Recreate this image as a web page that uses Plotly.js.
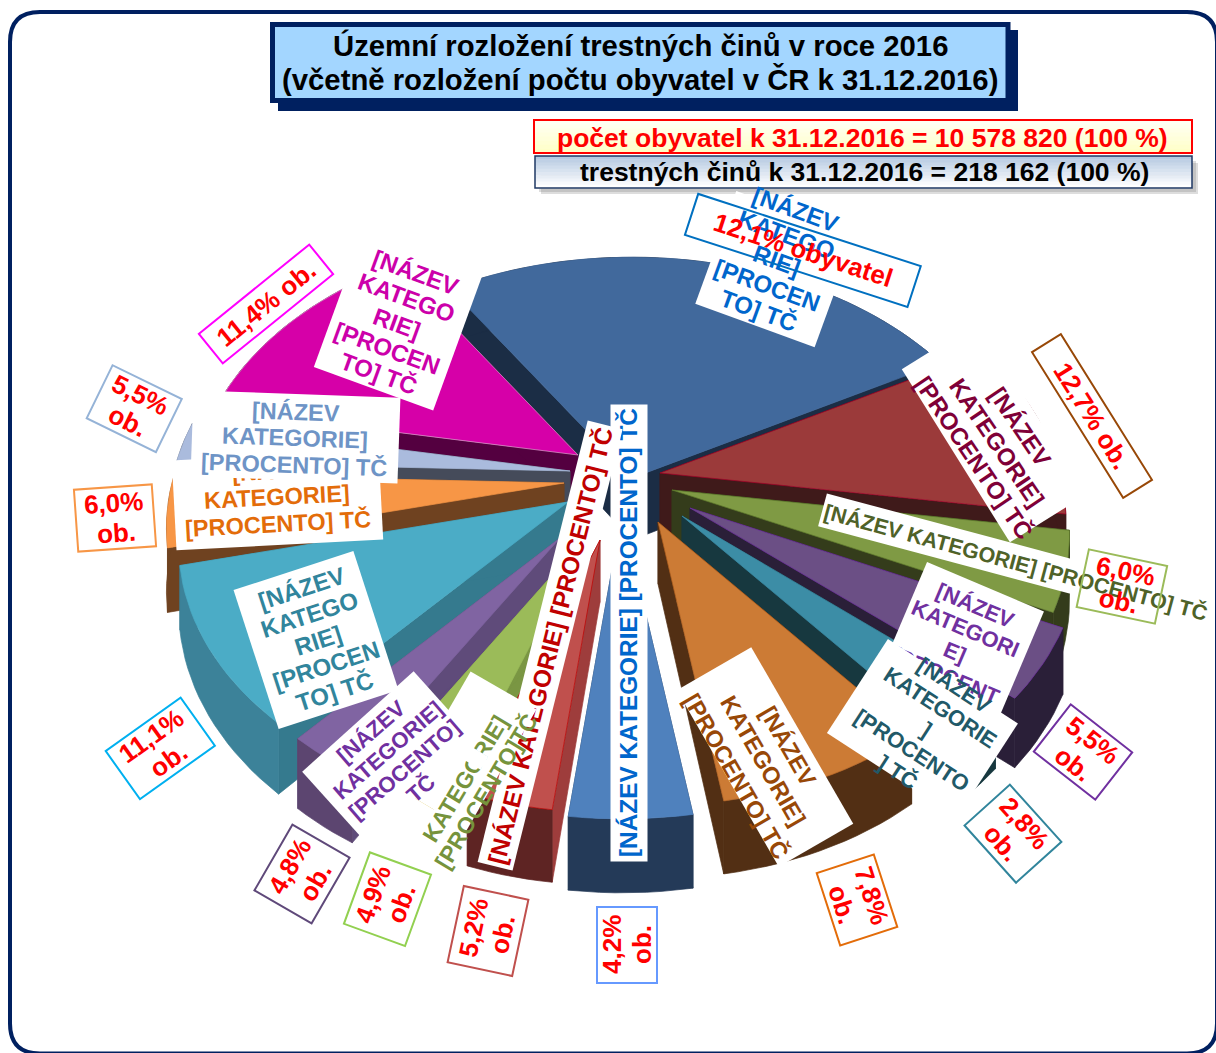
<!DOCTYPE html>
<html><head><meta charset="utf-8">
<script src="https://cdn.plot.ly/plotly-3.0.1.min.js"></script>
<style>html,body{margin:0;padding:0;background:#fff}#c{width:1216px;height:1053px}</style>
</head><body><div id="c"></div>
<script>
// ---------- data ----------
const crimeShare  = [26.1,10.4,4.7,4.3,2.8,8.3,4.4,3.5,3.2,2.9,9.7,4.3,2.4,12.9];
const popShare    = [12.1,12.7,6.0,5.5,2.8,7.8,4.2,5.2,4.9,4.8,11.1,6.0,5.5,11.4];
const popSuffix   = [' obyvatel',' ob.','|ob.','|ob.','|ob.','|ob.','|ob.','|ob.','|ob.','|ob.','|ob.','|ob.','|ob.',' ob.'];
const sliceText   = [
 '[NÁZEV|KATEGO|RIE]|[PROCEN|TO] TČ',
 '[NÁZEV|KATEGORIE]|[PROCENTO] TČ',
 '[NÁZEV KATEGORIE] [PROCENTO] TČ',
 '[NÁZEV|KATEGORI|E]|[PROCENT|O] TČ',
 '[NÁZEV|KATEGORIE|]|[PROCENTO|] TČ',
 '[NÁZEV|KATEGORIE]|[PROCENTO] TČ',
 '[NÁZEV KATEGORIE] [PROCENTO] TČ',
 '[NÁZEV KATEGORIE] [PROCENTO] TČ',
 '[NÁZEV|KATEGORIE]|[PROCENTO]TČ',
 '[NÁZEV|KATEGORIE]|[PROCENTO]|TČ',
 '[NÁZEV|KATEGO|RIE]|[PROCEN|TO] TČ',
 '[NÁZEV|KATEGORIE]|[PROCENTO] TČ',
 '[NÁZEV|KATEGORIE]|[PROCENTO] TČ',
 '[NÁZEV|KATEGO|RIE]|[PROCEN|TO] TČ'
];
const titleLines  = ['Územní rozložení trestných činů v roce 2016','(včetně rozložení počtu obyvatel v ČR k 31.12.2016)'];
const popTotal    = 'počet obyvatel k 31.12.2016 = 10 578 820 (100 %)';
const crimeTotal  = 'trestných činů k 31.12.2016 = 218 162 (100 %)';

// ---------- styles ----------
const faceColor = ['#41699C','#9B3A3A','#7F9A44','#6B4F85','#3C8DA6','#CC7B35','#4F81BD','#C0504D','#9BBB59','#8064A2','#4BACC6','#F79646','#AABBDD','#D600A8'];
const sideColor = ['#1B2D45','#3F1A1A','#343C1B','#2A1F38','#17383F','#522F14','#243A58','#9E3D3C','#7A9643','#5F4B7A','#357A8E','#6F4220','#454B5A','#540040'];
const rimColor  = ['#1B2D45','#3F1A1A','#343C1B','#2A1F38','#17383F','#522F14','#243A58','#5E2423','#5F7336','#5C4570','#3C8299','#6F4220','#454B5A','#540040'];
const edgeColor = ['#41699C','#A8002A','#5F7A2C','#7030A0','#3C8DA6','#B06020','#4F81BD','#C00000','#9BBB59','#8064A2','#4BACC6','#F79646','#AABBDD','#E0A0D0'];
const textColor = ['#0066CC','#7F0037','#4F6228','#7030A0','#215968','#984807','#0066CC','#C00000','#76933C','#7030A0','#31859C','#E36C09','#6E94C6','#CC00AA'];
const popBorder = ['#0070C0','#984807','#9BBB59','#7030A0','#31859C','#E36C09','#6699FF','#C0504D','#92D050','#5F497A','#00B0F0','#F79646','#95B3D7','#FF00FF'];

// ---------- 3D pie geometry ----------
const startAngle=327, A=400, B=270, K=0.17, DEPTH=62;
const apexX=[632,660,672,690,682,658,622,600,588,560,568,564,570,578];
const apexY=[478,473,490,508,516,522,513,540,535,538,502,483,471,455];
const radius=[.95,1,.98,.96,.93,.89,.95,.86,.78,.88,.96,.98,.99,.95];
const rad=d=>d*Math.PI/180;
function rimPt(i,deg,z){
  const X=radius[i]*Math.sin(rad(deg)),Y=radius[i]*Math.cos(rad(deg));
  const s=1/(1+K*Y);
  return [apexX[i]+A*X*s, apexY[i]-B*Y*s+z*DEPTH*s];
}
function apexPt(i,z){return [apexX[i],apexY[i]+z*DEPTH];}
function poly(pts,fill,edge){
  return {type:'scatter',mode:'lines',x:pts.map(p=>p[0]).concat(pts[0][0]),y:pts.map(p=>p[1]).concat(pts[0][1]),
    fill:'toself',fillcolor:fill,line:{color:edge||fill,width:.7},hoverinfo:'skip',showlegend:false};
}
const total=crimeShare.reduce((a,b)=>a+b,0);
let acc=startAngle;
const slices=crimeShare.map((v,i)=>{const a0=acc,a1=acc+v/total*360;acc=a1;return{i,a0,a1,mid:(a0+a1)/2};});
const traces=[];
slices.slice().sort((p,q)=>Math.cos(rad(q.mid))-Math.cos(rad(p.mid))).forEach(s=>{
  const i=s.i;
  traces.push(poly([apexPt(i,0),rimPt(i,s.a0,0),rimPt(i,s.a0,1),apexPt(i,1)],sideColor[i]));
  traces.push(poly([apexPt(i,0),rimPt(i,s.a1,0),rimPt(i,s.a1,1),apexPt(i,1)],sideColor[i]));
  const top=[],bot=[],n=Math.max(4,Math.ceil((s.a1-s.a0)/2));
  for(let k=0;k<=n;k++){const d=s.a0+(s.a1-s.a0)*k/n;top.push(rimPt(i,d,0));bot.unshift(rimPt(i,d,1));}
  traces.push(poly(top.concat(bot),rimColor[i]));
  traces.push(poly([apexPt(i,0)].concat(top),faceColor[i],edgeColor[i]));
});

// ---------- frame and header shapes ----------
const R=30,L=10,T=12,RR=1217,BB=1053.5;
const rect=(x0,y0,x1,y1,fill,line,w)=>({type:'rect',xref:'x',yref:'y',x0,y0,x1,y1,fillcolor:fill,line:{color:line||fill,width:line?(w||1):0},layer:'below'});
function vband(x0,y0,x1,y1,c0,c1,n){
  const p=h=>[1,3,5].map(o=>parseInt(h.substr(o,2),16));const a=p(c0),b=p(c1),out=[];
  for(let k=0;k<n;k++){const t=k/(n-1),c='rgb('+a.map((v,j)=>Math.round(v+(b[j]-v)*t)).join(',')+')';
    out.push(rect(x0,y0+(y1-y0)*k/n,x1,y0+(y1-y0)*(k+1)/n+.5,c));}
  return out;
}
const shapes=[
 {type:'path',xref:'x',yref:'y',layer:'below',line:{color:'#002060',width:4},
  path:`M${L+R},${T}H${RR-R}Q${RR},${T} ${RR},${T+R}V${BB-R}Q${RR},${BB} ${RR-R},${BB}H${L+R}Q${L},${BB} ${L},${BB-R}V${T+R}Q${L},${T} ${L+R},${T}Z`},
 rect(278,30,1018,111,'#002060'),
 rect(272.5,24.5,1008,100.5,'#A3D6FF','#002060',5),
 ...vband(534,120,1192,153,'#FFFFF4','#FFFFC8',8),
 rect(534,120,1192,153,'rgba(0,0,0,0)','#FF0000',2),
 rect(541,163,1198,194,'rgba(120,120,120,0.25)'),
 rect(539,161,1196,192,'rgba(120,120,120,0.25)'),
 ...vband(535,156,1192,188,'#B7CAE2','#FFFFFF',10),
 rect(535,156,1192,188,'rgba(0,0,0,0)','#1F3864',1.5)
];

// ---------- annotations ----------
const FONT='Liberation Sans, Arial, sans-serif';
const anns=[];
const base=(x,y,ang)=>({xref:'x',yref:'y',x,y,xanchor:'center',yanchor:'middle',showarrow:false,textangle:ang});
const whiteBox=(x,y,w,h,ang)=>anns.push(Object.assign(base(x,y,ang),{text:'&nbsp;',width:w,height:h,bgcolor:'#FFFFFF',borderpad:0,borderwidth:0,font:{size:10,family:FONT}}));
function lines(str,x,y,ang,size,color,gap){
  const parts=str.split('|'),c=Math.cos(rad(ang)),sn=Math.sin(rad(ang));
  parts.forEach((t,k)=>{const o=(k-(parts.length-1)/2)*gap;
    anns.push(Object.assign(base(x-sn*o,y+c*o,ang),{text:'<b>'+t+'</b>',font:{size,family:FONT,color}}));});
}
const label=(i,x,y,ang,size,gap)=>lines(sliceText[i],x,y,ang,size,textColor[i],gap);
function popLabel(i,x,y,ang,w,h){
  anns.push(Object.assign(base(x,y,ang),{text:'&nbsp;',width:w,height:h,bordercolor:popBorder[i],borderwidth:2,borderpad:0,font:{size:10,family:FONT}}));
  lines(popShare[i].toFixed(1).replace('.',',')+'%'+popSuffix[i],x,y,ang,26,'#FF0000',30);
}
const plain=(x,y,t,size,color)=>lines(t,x,y,0,size,color,0);

plain(640,45.5,titleLines[0],29.3,'#000');
plain(640,79.5,titleLines[1],29.3,'#000');
plain(862,138,popTotal,26.5,'#FF0000');
plain(864,172,crimeTotal,26.5,'#000');

whiteBox(775,269,127,120,20); label(0,777,260,20,24,27);
whiteBox(398,320,127,146,20); label(13,397,323,20,24,27);
whiteBox(277,500,207,90,-3);  label(11,277,497,-3,23.5,27);
whiteBox(295,437,207,86,2);   label(12,295,438,2,23.5,27);
whiteBox(316,640,126,146,-18);label(10,318,640,-18,24,27);
whiteBox(628.5,633,457,37,-90);label(6,628,633,-90,24.4,0);
whiteBox(550,646,455,36,-76); label(7,550,646,-76,24.4,0);
whiteBox(446,790,230,76,-60);
label(8,465,779,-59,23,24);
whiteBox(447,765,90,26,-59);
whiteBox(473,757,15,26,-59);
whiteBox(388,755,150,91,-42); label(9,396,760,-41,22,25);
whiteBox(994,432,204,90,58);  label(1,997,442,56,24,28);
whiteBox(950,544,265,34,15);  label(2,1016,562,15,21.5,0);
whiteBox(953,662,127,165,23); label(3,955,652,23,22,25);
whiteBox(922,728,155,112,33); label(4,926,729,33,22,26);
whiteBox(765,757,204,86,60);  label(5,763,761,60,23.5,30);

popLabel(0,803,250,18,232,41);
popLabel(1,1092,416,58,170,32);
popLabel(2,1122,586,12,78,57);
popLabel(3,1083,752,38,76,58);
popLabel(4,1013,833,48,75,59);
popLabel(5,857,900,72,74,58);
popLabel(6,627,945,-90,74,58);
popLabel(7,488,931,-78,76,64);
popLabel(8,387,899,-70,74,63);
popLabel(9,302,874,-60,74,64);
popLabel(10,160,748,-35.5,90,57);
popLabel(11,115,518,-4,76,60);
popLabel(12,134,408,26,75,57);
popLabel(13,266,304,-39,140,36);

Plotly.newPlot('c',traces,{
  width:1216,height:1053,margin:{l:0,r:0,t:0,b:0,pad:0},autosize:false,showlegend:false,
  paper_bgcolor:'#fff',plot_bgcolor:'#fff',hovermode:false,
  xaxis:{range:[0,1216],visible:false,fixedrange:true},
  yaxis:{range:[1053,0],visible:false,fixedrange:true},
  shapes,annotations:anns
},{displayModeBar:false,staticPlot:true});
</script></body></html>
